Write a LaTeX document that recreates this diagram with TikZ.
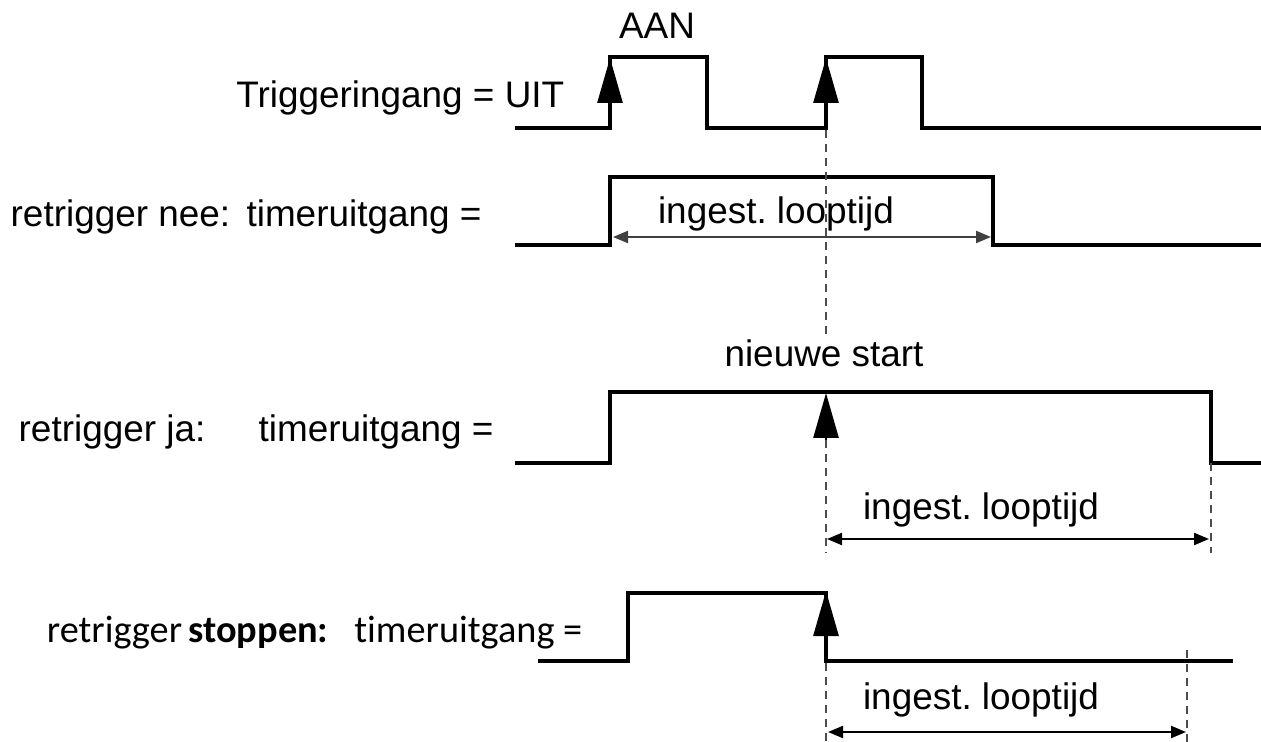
\documentclass[tikz,border=0pt]{standalone}
\usepackage{fontspec}
\setmainfont{Liberation Sans}
\newfontfamily\calfont[Ligatures={NoCommon}]{Carlito}
\usetikzlibrary{arrows.meta}
\frenchspacing

\tikzset{
  signal/.style={line width=1.2pt, line join=miter},
  edge/.style={-{Triangle[length=4.5mm,width=2.5mm]}, line width=0.8pt},
  span/.style={{Triangle[length=1.5mm,width=1.2mm]}-{Triangle[length=1.5mm,width=1.2mm]}, line width=0.6pt},
  guide/.style={dash pattern=on 0.8mm off 0.6mm, line width=0.4pt, black!70},
  lbl/.style={font=\fontsize{10.5}{12}\selectfont, inner sep=0pt},
}

\begin{document}
\begin{tikzpicture}[x=0.1mm, y=-0.1mm]
    \useasboundingbox (0,0) rectangle (1261,742);

    % trigger input
    \node[lbl, anchor=base east] (trig) at (565,108) {Triggeringang = UIT};
    \node[lbl, anchor=base] (aan) at (657,39) {AAN};
    \draw[signal] (515,128) -- (610,128) -- (610,57) -- (707,57) -- (707,128)
        -- (826,128) -- (826,57) -- (922,57) -- (922,128) -- (1261,128);
    \draw[edge] (610,128) -- (610,58);
    \draw[edge] (826,128) -- (826,58);

    % retrigger nee
    \node[lbl, anchor=base west] (nee) at (10,227) {retrigger nee:\ \,timeruitgang =};
    \draw[signal] (515,245) -- (610,245) -- (610,177) -- (993,177) -- (993,245) -- (1261,245);
    \coordinate (neeA) at (613,237);
    \coordinate (neeB) at (991,237);
    \draw[span, black!75] (neeA) -- (neeB);
    \node[lbl, anchor=base] (neeT) at (776,224) {ingest. looptijd};

    % retrigger ja
    \node[lbl, anchor=base west] (ja) at (18,442) {retrigger ja:};
    \node[lbl, anchor=base west] (jaT) at (258,442) {timeruitgang =};
    \node[lbl, anchor=base] (start) at (824,367) {nieuwe start};
    \draw[signal] (515,463) -- (610,463) -- (610,392) -- (1211,392) -- (1211,463) -- (1261,463);
    \draw[edge] (826,440) -- (826,393);
    \coordinate (jaA) at (827,539);
    \coordinate (jaB) at (1209,539);
    \draw[span] (jaA) -- (jaB);
    \node[lbl, anchor=base] (jaL) at (981,519) {ingest. looptijd};

    % retrigger stoppen
    \node[lbl, font=\calfont\fontsize{10.9}{12}\selectfont, anchor=base east] (stop) at (583,642)
        {retrigger\,\textbf{stoppen:}\ \ \ timeruitgang =};
    \draw[signal] (538,661) -- (628,661) -- (628,593) -- (826,593) -- (826,661) -- (1233,661);
    \draw[edge] (826,661) -- (826,591);
    \coordinate (stA) at (828,732);
    \coordinate (stB) at (1186,732);
    \draw[span] (stA) -- (stB);
    \node[lbl, anchor=base] (stL) at (981,709) {ingest. looptijd};

    % guide lines
    \draw[guide] (826,130) -- (826,335);
    \draw[guide] (826,440) -- (826,553);
    \draw[guide] (1211,463) -- (1211,553);
    \draw[guide] (826,663) -- (826,742);
    \draw[guide] (1187,650) -- (1187,742);
\end{tikzpicture}
\end{document}
